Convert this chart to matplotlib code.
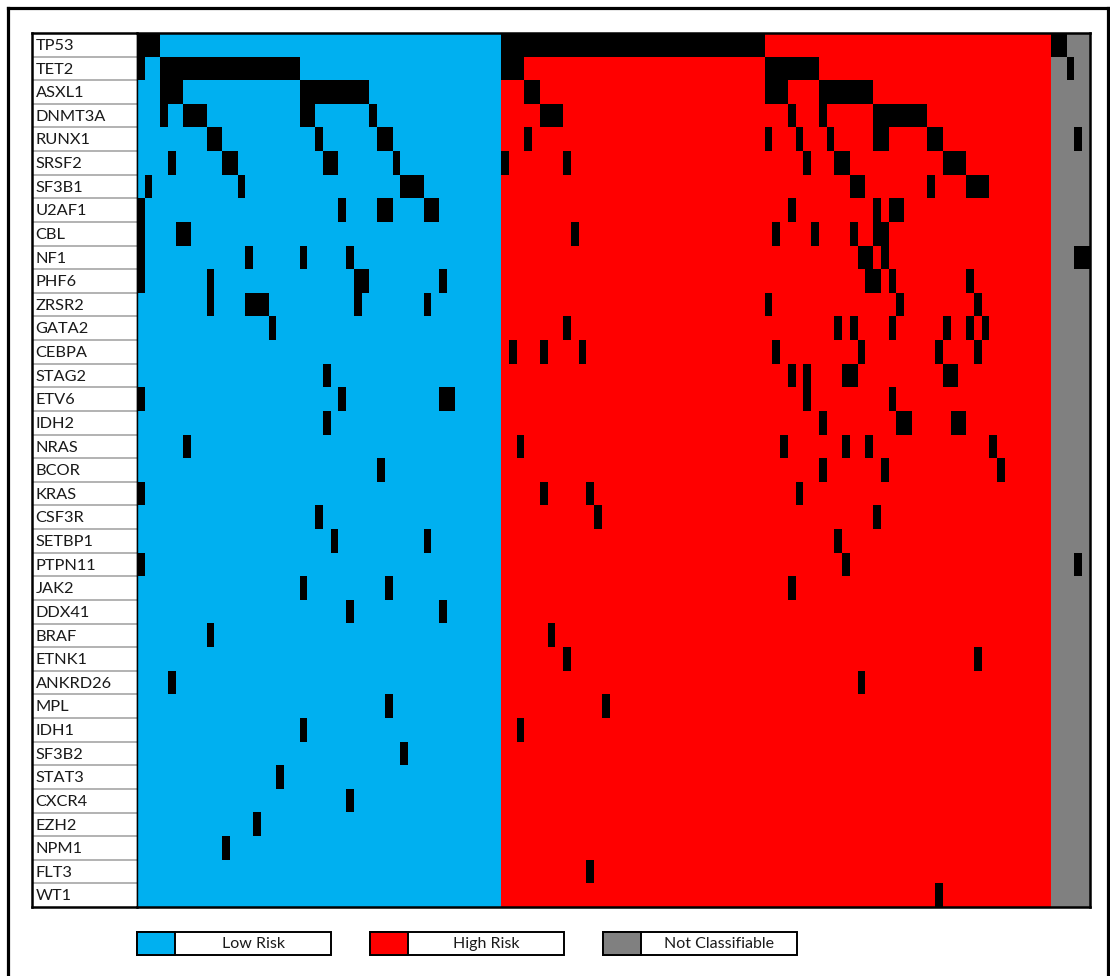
import matplotlib
matplotlib.use("Agg")
import numpy as np
import matplotlib.pyplot as plt
from matplotlib.colors import ListedColormap
from matplotlib.patches import Rectangle
from matplotlib.lines import Line2D

plt.rcParams["font.family"] = ["Lato", "DejaVu Sans"]

genes = ["TP53", "TET2", "ASXL1", "DNMT3A", "RUNX1", "SRSF2", "SF3B1", "U2AF1",
         "CBL", "NF1", "PHF6", "ZRSR2", "GATA2", "CEBPA", "STAG2", "ETV6", "IDH2",
         "NRAS", "BCOR", "KRAS", "CSF3R", "SETBP1", "PTPN11", "JAK2", "DDX41",
         "BRAF", "ETNK1", "ANKRD26", "MPL", "IDH1", "SF3B2", "STAT3", "CXCR4",
         "EZH2", "NPM1", "FLT3", "WT1"]

group_names = ["Low Risk", "High Risk", "Not Classifiable"]
group_sizes = [47, 71, 5]
group_colors = ["#00B0F0", "#FF0000", "#808080"]

# patient columns (0-based, ordered Low -> High -> NC) carrying each mutation
mutated = {
    "TP53":    [0, 1, 2] + list(range(47, 81)) + [118, 119],
    "TET2":    [0] + list(range(3, 21)) + [47, 48, 49] + list(range(81, 88)) + [120],
    "ASXL1":   [3, 4, 5] + list(range(21, 30)) + [50, 51, 81, 82, 83] + list(range(88, 95)),
    "DNMT3A":  [3, 6, 7, 8, 21, 22, 30, 52, 53, 54, 84, 88] + list(range(95, 102)),
    "RUNX1":   [9, 10, 23, 31, 32, 50, 81, 85, 89, 95, 96, 102, 103, 121],
    "SRSF2":   [4, 11, 12, 24, 25, 33, 47, 55, 86, 90, 91, 104, 105, 106],
    "SF3B1":   [1, 13, 34, 35, 36, 92, 93, 102, 107, 108, 109],
    "U2AF1":   [0, 26, 31, 32, 37, 38, 84, 95, 97, 98],
    "CBL":     [0, 5, 6, 56, 82, 87, 92, 95, 96],
    "NF1":     [0, 14, 21, 27, 93, 94, 96, 121, 122],
    "PHF6":    [0, 9, 28, 29, 39, 94, 95, 97, 107],
    "ZRSR2":   [9, 14, 15, 16, 28, 37, 81, 98, 108],
    "GATA2":   [17, 55, 90, 92, 97, 104, 107, 109],
    "CEBPA":   [48, 52, 57, 82, 93, 103, 108],
    "STAG2":   [24, 84, 86, 91, 92, 104, 105],
    "ETV6":    [0, 26, 39, 40, 86, 97],
    "IDH2":    [24, 88, 98, 99, 105, 106],
    "NRAS":    [6, 49, 83, 91, 94, 110],
    "BCOR":    [31, 88, 96, 111],
    "KRAS":    [0, 52, 58, 85],
    "CSF3R":   [23, 59, 95],
    "SETBP1":  [25, 37, 90],
    "PTPN11":  [0, 91, 121],
    "JAK2":    [21, 32, 84],
    "DDX41":   [27, 39],
    "BRAF":    [9, 53],
    "ETNK1":   [55, 108],
    "ANKRD26": [4, 93],
    "MPL":     [32, 60],
    "IDH1":    [21, 49],
    "SF3B2":   [34],
    "STAT3":   [18],
    "CXCR4":   [27],
    "EZH2":    [15],
    "NPM1":    [11],
    "FLT3":    [58],
    "WT1":     [103],
}

# build the grid: 0/1/2 = risk group background, 3 = mutated
group_of_col = np.repeat(np.arange(len(group_sizes)), group_sizes)
grid = np.tile(group_of_col, (len(genes), 1))
for i, g in enumerate(genes):
    grid[i, mutated[g]] = 3

W, H = 1110, 976
fig = plt.figure(figsize=(W / 100, H / 100), dpi=100)

def px_axes(x0, y0, x1, y1):
    return fig.add_axes([x0 / W, 1 - y1 / H, (x1 - x0) / W, (y1 - y0) / H])

# background overlay in pixel units for frame + legend
bg = fig.add_axes([0, 0, 1, 1])
bg.set_xlim(0, W)
bg.set_ylim(H, 0)
bg.axis("off")
for xs, ys in [([7.5, 7.5], [7.5, H]), ([7.5, 1107.5], [7.5, 7.5]), ([1107.5, 1107.5], [7.5, H])]:
    bg.add_line(Line2D(xs, ys, color="black", lw=2.3))

# gene label column
lab = px_axes(32, 33, 137, 907)
lab.set_xlim(0, 1)
lab.set_ylim(len(genes), 0)
lab.set_xticks([])
lab.set_yticks([])
for i in range(1, len(genes)):
    lab.axhline(i, color="#A6A6A6", lw=1.2)
for i, g in enumerate(genes):
    lab.text(0.035, i + 0.55, g, ha="left", va="center", fontsize=11.8, color="#1a1a1a")
for side in ["left", "top", "bottom"]:
    lab.spines[side].set_linewidth(1.8)
lab.spines["right"].set_linewidth(1.0)

# mutation matrix
ax = px_axes(137, 33, 1090, 907)
cmap = ListedColormap(group_colors + ["black"])
ax.imshow(grid, cmap=cmap, vmin=-0.5, vmax=3.5, aspect="auto", interpolation="nearest")
ax.set_xticks([])
ax.set_yticks([])
for side in ["top", "right", "bottom"]:
    ax.spines[side].set_linewidth(1.8)
ax.spines["left"].set_linewidth(1.0)

# legend boxes
for i, (name, color) in enumerate(zip(group_names, group_colors)):
    x0 = 137 + i * 233
    bg.add_patch(Rectangle((x0, 932), 194, 23, facecolor="white", edgecolor="black", lw=1.4))
    bg.add_patch(Rectangle((x0, 932), 38, 23, facecolor=color, edgecolor="black", lw=1.4))
    bg.text(x0 + 38 + 78, 944, name, ha="center", va="center", fontsize=11.5, color="#1a1a1a")

fig.savefig("out.png", dpi=100)
